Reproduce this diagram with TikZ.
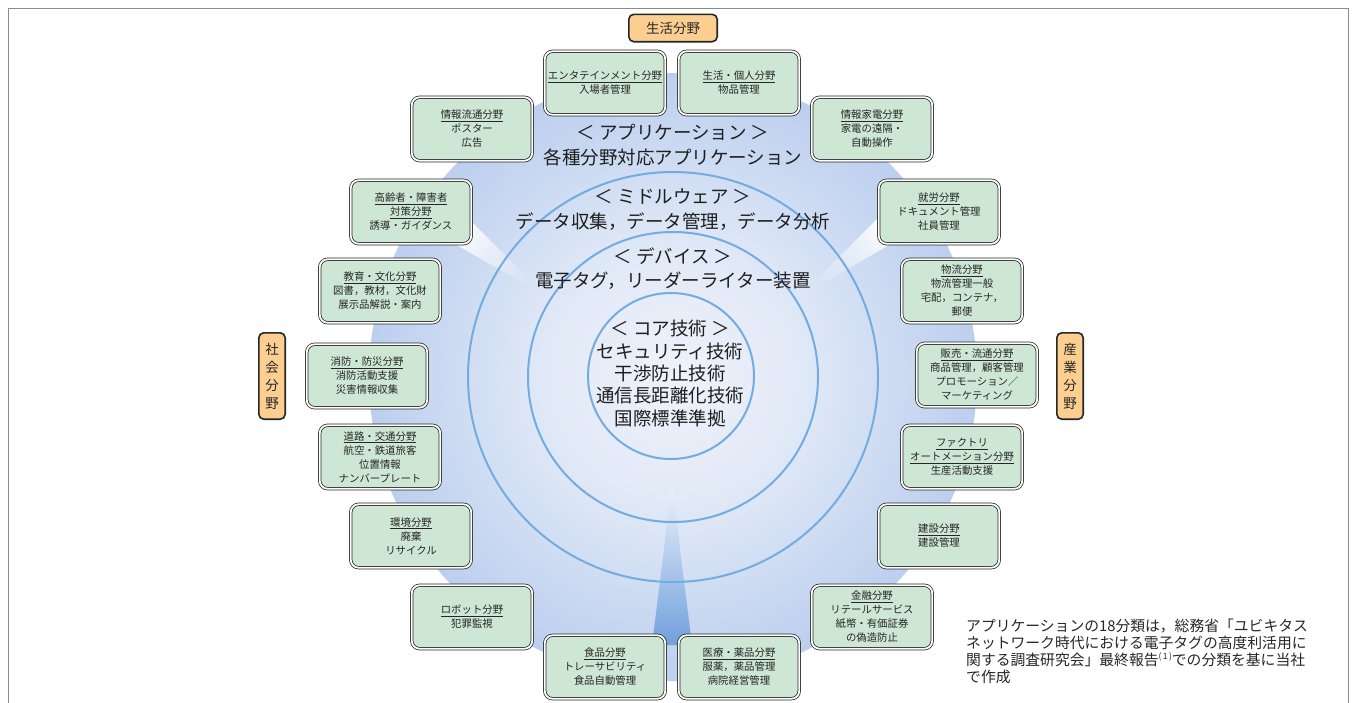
\documentclass[tikz,border=0pt]{standalone}
\usepackage{fontspec}
\setmainfont{Noto Sans CJK JP}
\usetikzlibrary{fadings}
\definecolor{boxgreen}{RGB}{206,230,212}
\definecolor{labelorange}{RGB}{252,207,145}
\definecolor{ringblue}{RGB}{115,172,225}
\definecolor{dcenter}{RGB}{238,242,250}
\definecolor{dinner}{RGB}{226,234,247}
\definecolor{dmid}{RGB}{185,205,238}
\definecolor{dmid2}{RGB}{152,182,228}
\definecolor{douter}{RGB}{130,164,220}
\definecolor{beamblue}{RGB}{112,160,222}
\pgfdeclareradialshading{diskshade}{\pgfpoint{0bp}{0bp}}{color(0bp)=(dcenter); color(10bp)=(dinner); color(26bp)=(dmid); color(38bp)=(dmid2); color(50bp)=(douter); color(100bp)=(douter)}
\tikzfading[name=beamfade, left color=transparent!0, middle color=transparent!0, right color=transparent!100]
\newcommand{\ttl}[1]{\underline{#1}}
\tikzset{
  fieldbox/.style={draw=black!85, line width=0.75pt, double=white, double distance=1.8pt,
    fill=boxgreen, rounded corners=8pt, minimum width=120.5pt, minimum height=63.5pt,
    inner sep=1pt, align=center, font=\fontsize{10.4}{14}\selectfont, text=black!85},
  catbox/.style={draw=black!85, line width=1.6pt, fill=labelorange, rounded corners=5pt,
    align=center, font=\fontsize{13.5}{18}\selectfont, inner sep=0pt, text=black!85},
  ring/.style={draw=ringblue, line width=2pt},
  bigtext/.style={align=center, text=black!88, font=\fontsize{18.5}{25}\selectfont, inner sep=0pt}
}
\begin{document}
\begin{tikzpicture}[x=1pt,y=-1pt]
\useasboundingbox (0,0) rectangle (1356,702);
% disk
\shade[shading=diskshade] (673,377) circle[radius=304pt];
% beams
\fill[white, path fading=beamfade, fading angle=-38] (450,200) -- (450,241) -- (547,297) -- cycle;
\fill[white, path fading=beamfade, fading angle=-142] (896,200) -- (896,241) -- (799,297) -- cycle;
\shade[top color=dcenter, bottom color=beamblue] (672,485) -- (692,645) -- (652,645) -- cycle;
% rings
\draw[ring] (673,377) circle[radius=205pt];
\draw[ring] (673,377) circle[radius=145pt];
\draw[ring] (671,376) circle[radius=83pt];
% layer texts
\node[bigtext] (app) at (673,145.5) {＜ アプリケーション ＞\\各種分野対応アプリケーション};
\node[bigtext] (mid) at (673,209.5) {＜ ミドルウェア ＞\\データ収集，データ管理，データ分析};
\node[bigtext, font=\fontsize{18.5}{24}\selectfont] (dev) at (673,269) {＜ デバイス ＞\\電子タグ，リーダーライター装置};
\node[bigtext, font=\fontsize{18.5}{22.3}\selectfont] (core) at (670,373.5) {＜ コア技術 ＞\\セキュリティ技術\\干渉防止技術\\通信長距離化技術\\国際標準準拠};
% field boxes
\node[fieldbox] (ent) at (605,83) {\ttl{エンタテインメント分野}\\入場者管理};
\node[fieldbox] (life) at (739,83) {\ttl{生活・個人分野}\\物品管理};
\node[fieldbox] (info) at (472,129) {\ttl{情報流通分野}\\ポスター\\広告};
\node[fieldbox] (home) at (872,129) {\ttl{情報家電分野}\\家電の遠隔・\\自動操作};
\node[fieldbox] (aged) at (411,212) {\ttl{高齢者・障害者}\\\ttl{対策分野}\\誘導・ガイダンス};
\node[fieldbox] (work) at (939,212) {\ttl{就労分野}\\ドキュメント管理\\社員管理};
\node[fieldbox] (edu) at (380,291) {\ttl{教育・文化分野}\\図書，教材，文化財\\展示品解説・案内};
\node[fieldbox] (logi) at (962,291) {\ttl{物流分野}\\物流管理一般\\宅配，コンテナ，\\郵便};
\node[fieldbox] (fire) at (367,376) {\ttl{消防・防災分野}\\消防活動支援\\災害情報収集};
\node[fieldbox] (sales) at (977,375) {\ttl{販売・流通分野}\\商品管理，顧客管理\\プロモーション／\\マーケティング};
\node[fieldbox] (road) at (380,457) {\ttl{道路・交通分野}\\航空・鉄道旅客\\位置情報\\ナンバープレート};
\node[fieldbox] (fact) at (962,457) {\ttl{ファクトリ}\\\ttl{オートメーション分野}\\生産活動支援};
\node[fieldbox] (env) at (411,536) {\ttl{環境分野}\\廃棄\\リサイクル};
\node[fieldbox] (cons) at (939,536) {\ttl{建設分野}\\建設管理};
\node[fieldbox] (robot) at (472,617) {\ttl{ロボット分野}\\犯罪監視};
\node[fieldbox] (fin) at (872,617) {\ttl{金融分野}\\リテールサービス\\紙幣・有価証券\\の偽造防止};
\node[fieldbox] (food) at (605,667) {\ttl{食品分野}\\トレーサビリティ\\食品自動管理};
\node[fieldbox] (med) at (739,667) {\ttl{医療・薬品分野}\\服薬，薬品管理\\病院経営管理};
% category labels
\node[catbox, minimum width=88.4pt, minimum height=27.4pt] (catlife) at (673,28) {生活分野};
\node[catbox, minimum width=26.4pt, minimum height=86.4pt] (catsoc) at (272,376) {社\\会\\分\\野};
\node[catbox, minimum width=26.4pt, minimum height=86.4pt] (catind) at (1070,376) {産\\業\\分\\野};
% note
\node[anchor=north west, align=left, font=\fontsize{14.8}{17}\selectfont, inner sep=0pt, text=black!85] (note) at (966,619)
  {アプリケーションの18分類は，総務省「ユビキタス\\ネットワーク時代における電子タグの高度利活用に\\関する調査研究会」最終報告\raisebox{0.4em}{\fontsize{8.5}{8.5}\selectfont(\,1\,)}での分類を基に当社\\で作成};
% frame
\draw[black!45, line width=0.8pt] (8,712) -- (8,8) -- (1348,8) -- (1348,712);
\end{tikzpicture}
\end{document}
